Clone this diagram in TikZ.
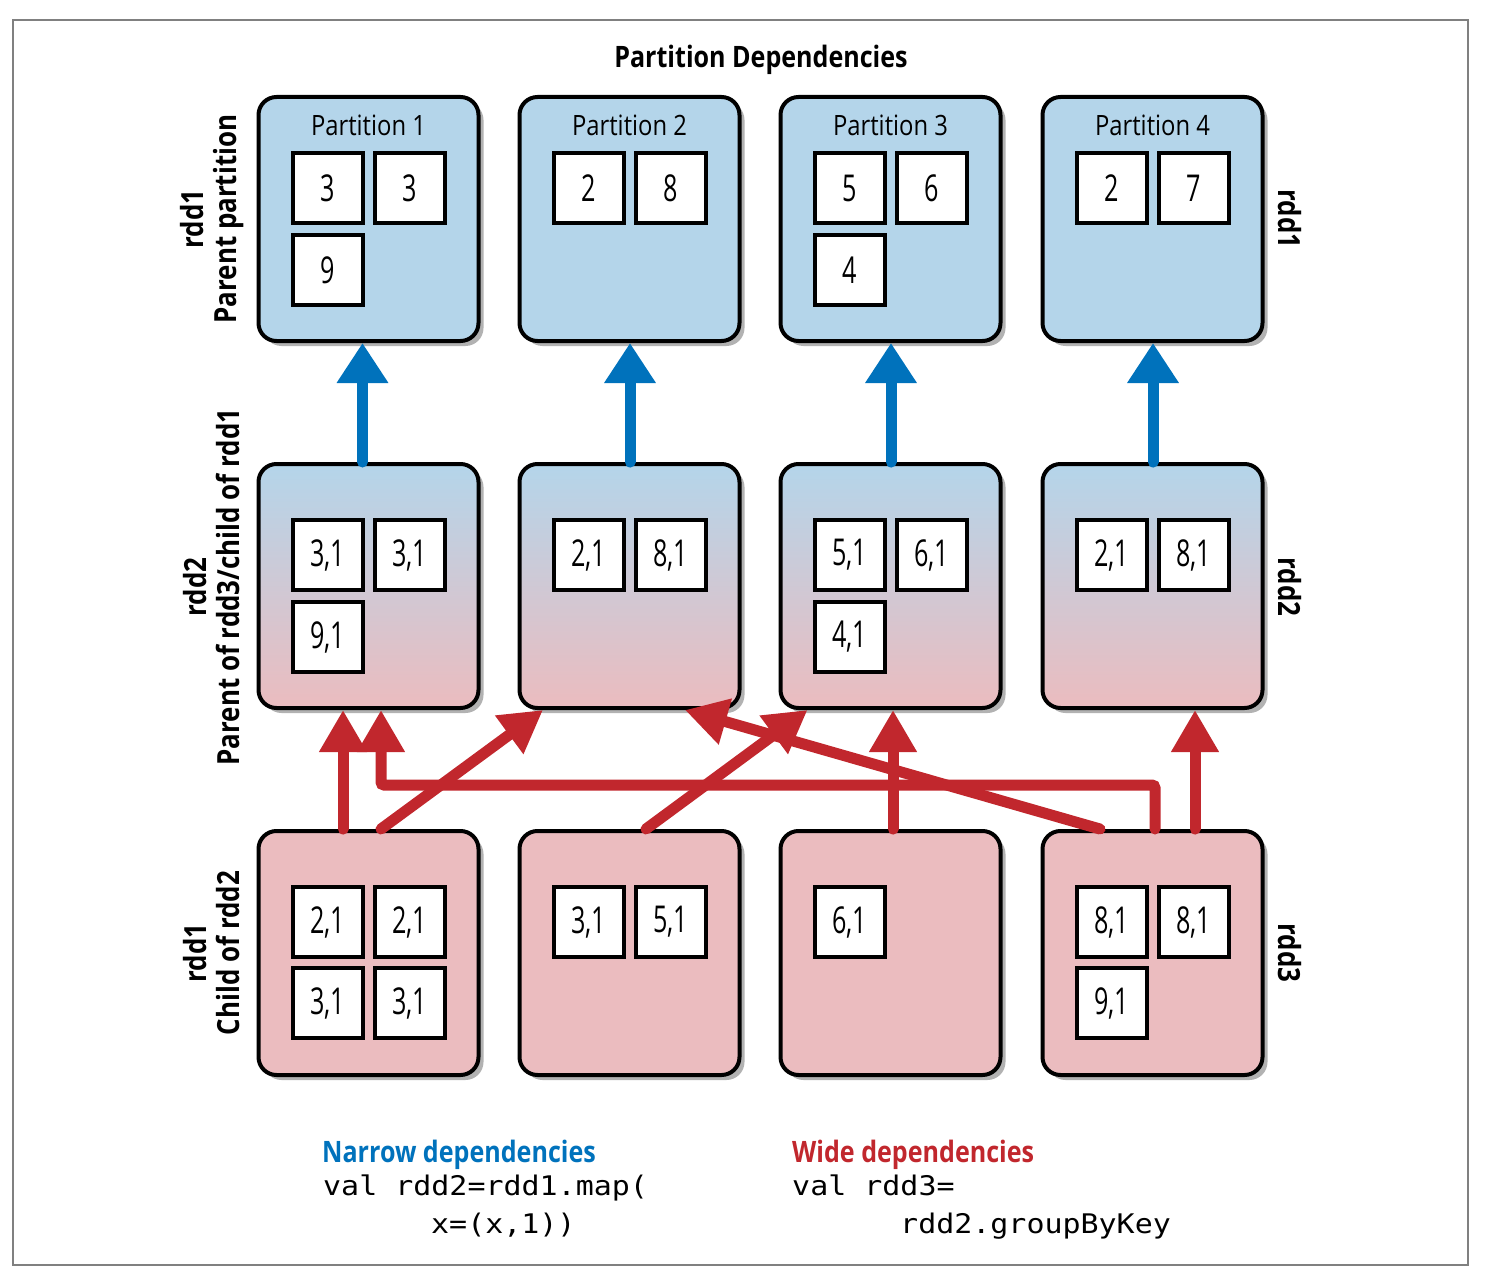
\documentclass[tikz,border=0pt]{standalone}
\usepackage{fontspec}
\newfontfamily\cond[FakeStretch=0.85]{Open Sans}
\newfontfamily\numf[FakeStretch=0.68]{Open Sans}
\newfontfamily\codef[FakeStretch=1.11]{DejaVu Sans Mono}
\usetikzlibrary{arrows.meta,shadows,calc}
\definecolor{blueF}{HTML}{B4D5EA}
\definecolor{pinkF}{HTML}{EBBCBF}
\definecolor{blueA}{HTML}{0072BC}
\definecolor{redA}{HTML}{C1272D}
\definecolor{frameC}{HTML}{808080}
\begin{document}
\begin{tikzpicture}[x=1pt,y=-1pt,
  part/.style={draw=black, line width=4pt, rounded corners=18pt,
    minimum width=220pt, minimum height=244pt, inner sep=0pt,
    drop shadow={shadow xshift=5pt, shadow yshift=-5pt, opacity=0.3, fill=black}},
  toprow/.style={part, fill=blueF},
  midrow/.style={part, top color=blueF, bottom color=pinkF},
  botrow/.style={part, fill=pinkF},
  sq/.style={draw=black, line width=4pt, fill=white, minimum size=70pt, inner sep=0pt,
    font=\numf\fontsize{37}{40}\selectfont},
  ptitle/.style={font=\cond\fontsize{28}{32}\selectfont, inner sep=0pt},
  slabel/.style={font=\cond\bfseries\fontsize{30.5}{33}\selectfont, align=center, inner sep=0pt},
  barrow/.style={draw=blueA, line width=11pt, line cap=round,
    -{Triangle[length=40pt,width=49pt]}},
  rarrow/.style={draw=redA, line width=11pt, line cap=round,
    -{Triangle[length=42pt,width=45pt]}},
  codetext/.style={font=\codef\fontsize{27}{32}\selectfont, anchor=base west, inner sep=0pt},
  legend/.style={font=\cond\bfseries\fontsize{29.5}{32}\selectfont, anchor=base west, inner sep=0pt}
]
\useasboundingbox (0,0) rectangle (1486,1276);
\draw[frameC, line width=1.5pt] (13,20) rectangle (1468,1265);

\node[font=\cond\bfseries\fontsize{29.5}{32}\selectfont] (title) at (761,60) {Partition Dependencies};

% top row
\node[toprow] (t1) at (368.5,219) {};
\node[toprow] (t2) at (629.5,219) {};
\node[toprow] (t3) at (890.5,219) {};
\node[toprow] (t4) at (1152.5,219) {};
% middle row
\node[midrow] (m1) at (368.5,586) {};
\node[midrow] (m2) at (629.5,586) {};
\node[midrow] (m3) at (890.5,586) {};
\node[midrow] (m4) at (1152.5,586) {};
% bottom row
\node[botrow] (b1) at (368.5,953) {};
\node[botrow] (b2) at (629.5,953) {};
\node[botrow] (b3) at (890.5,953) {};
\node[botrow] (b4) at (1152.5,953) {};

% titles
\node[ptitle] (t1l) at ($(t1.north)+(0,30)$) {Partition 1};
\node[ptitle] (t2l) at ($(t2.north)+(0,30)$) {Partition 2};
\node[ptitle] (t3l) at ($(t3.north)+(0,30)$) {Partition 3};
\node[ptitle] (t4l) at ($(t4.north)+(0,30)$) {Partition 4};

% top squares
\node[sq] (t1a) at ($(t1.north)+(-41,93)$) {3};
\node[sq] (t1b) at ($(t1.north)+(41,93)$) {3};
\node[sq] (t1c) at ($(t1.north)+(-41,175)$) {9};
\node[sq] (t2a) at ($(t2.north)+(-41,93)$) {2};
\node[sq] (t2b) at ($(t2.north)+(41,93)$) {8};
\node[sq] (t3a) at ($(t3.north)+(-41,93)$) {5};
\node[sq] (t3b) at ($(t3.north)+(41,93)$) {6};
\node[sq] (t3c) at ($(t3.north)+(-41,175)$) {4};
\node[sq] (t4a) at ($(t4.north)+(-41,93)$) {2};
\node[sq] (t4b) at ($(t4.north)+(41,93)$) {7};

% middle squares
\node[sq] (m1a) at ($(m1.north)+(-41,93)$) {3,1};
\node[sq] (m1b) at ($(m1.north)+(41,93)$) {3,1};
\node[sq] (m1c) at ($(m1.north)+(-41,175)$) {9,1};
\node[sq] (m2a) at ($(m2.north)+(-41,93)$) {2,1};
\node[sq] (m2b) at ($(m2.north)+(41,93)$) {8,1};
\node[sq] (m3a) at ($(m3.north)+(-41,93)$) {5,1};
\node[sq] (m3b) at ($(m3.north)+(41,93)$) {6,1};
\node[sq] (m3c) at ($(m3.north)+(-41,175)$) {4,1};
\node[sq] (m4a) at ($(m4.north)+(-41,93)$) {2,1};
\node[sq] (m4b) at ($(m4.north)+(41,93)$) {8,1};

% bottom squares
\node[sq] (b1a) at ($(b1.north)+(-41,93)$) {2,1};
\node[sq] (b1b) at ($(b1.north)+(41,93)$) {2,1};
\node[sq] (b1c) at ($(b1.north)+(-41,174)$) {3,1};
\node[sq] (b1d) at ($(b1.north)+(41,174)$) {3,1};
\node[sq] (b2a) at ($(b2.north)+(-41,93)$) {3,1};
\node[sq] (b2b) at ($(b2.north)+(41,93)$) {5,1};
\node[sq] (b3a) at ($(b3.north)+(-41,93)$) {6,1};
\node[sq] (b4a) at ($(b4.north)+(-41,93)$) {8,1};
\node[sq] (b4b) at ($(b4.north)+(41,93)$) {8,1};
\node[sq] (b4c) at ($(b4.north)+(-41,174)$) {9,1};

% side labels
\node[slabel, rotate=90] (l1) at (212,219) {rdd1\\Parent partition};
\node[slabel, rotate=90] (l2) at (212,587) {rdd2\\Parent of rdd3/child of rdd1};
\node[slabel, rotate=90] (l3) at (212,953) {rdd1\\Child of rdd2};
\node[slabel, rotate=-90] (r1) at (1290,219) {rdd1};
\node[slabel, rotate=-90] (r2) at (1290,587) {rdd2};
\node[slabel, rotate=-90] (r3) at (1290,953) {rdd3};

% narrow (blue) arrows
\draw[barrow] ([xshift=-6pt]m1.north) -- ([xshift=-6pt]t1.south);
\draw[barrow] ([xshift=0.5pt]m2.north) -- ([xshift=0.5pt]t2.south);
\draw[barrow] ([xshift=0.5pt]m3.north) -- ([xshift=0.5pt]t3.south);
\draw[barrow] ([xshift=0.5pt]m4.north) -- ([xshift=0.5pt]t4.south);

% wide (red) arrows
\draw[rarrow] ([xshift=-25.5pt]b1.north) -- ([xshift=-25.5pt]m1.south);
\draw[rarrow, rounded corners=3pt] ([xshift=2.5pt]b4.north) -- ++(0,-44) -| ([xshift=12.5pt]m1.south);
\draw[rarrow] ([xshift=12.5pt]b1.north) -- ([xshift=-86.5pt]m2.south);
\draw[rarrow] ([xshift=16.5pt]b2.north) -- ([xshift=-83pt]m3.south);
\draw[rarrow] ([xshift=2.5pt]b3.north) -- ([xshift=2.5pt]m3.south);
\draw[rarrow] ([xshift=42.5pt]b4.north) -- ([xshift=42.5pt]m4.south);
\draw[rarrow] ([xshift=-52.5pt]b4.north) -- ([xshift=55.5pt]m2.south);

% legends
\node[legend, text=blueA] (nl) at (322,1162) {Narrow dependencies};
\node[codetext] (nc1) at (323,1195) {val rdd2=rdd1.map(};
\node[codetext] (nc2) at (431,1233) {x=(x,1))};
\node[legend, text=redA] (wl) at (792,1162) {Wide dependencies};
\node[codetext] (wc1) at (792,1195) {val rdd3=};
\node[codetext] (wc2) at (900,1233) {rdd2.groupByKey};
\end{tikzpicture}
\end{document}
